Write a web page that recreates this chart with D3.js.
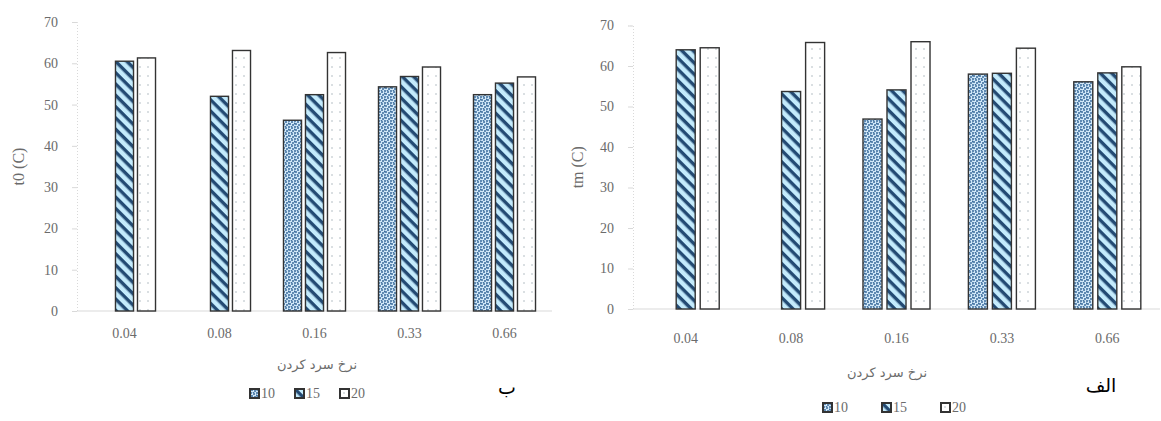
<!DOCTYPE html>
<html>
<head>
<meta charset="utf-8">
<script src="https://cdn.jsdelivr.net/npm/d3@7"></script>
<style>
  body { margin: 0; background: #fff; }
  svg { display: block; }
</style>
</head>
<body>
<svg id="chart" width="1161" height="421"></svg>
<script>
const svg = d3.select("#chart");

// data
const rates = ["0.04", "0.08", "0.16", "0.33", "0.66"];
const series = ["10", "15", "20"];
const yTicks = [0, 10, 20, 30, 40, 50, 60, 70];

// chart ب : t0
const t0_10 = [null, null, 46.2, 54.3, 52.4];
const t0_15 = [60.5, 52.0, 52.4, 56.8, 55.2];
const t0_20 = [61.3, 63.1, 62.6, 59.1, 56.7];

// chart الف : tm
const tm_10 = [null, null, 46.9, 58.0, 56.1];
const tm_15 = [64.0, 53.7, 54.1, 58.2, 58.3];
const tm_20 = [64.5, 65.8, 66.0, 64.4, 59.8];

const tickFont = "'Liberation Serif', 'Times New Roman', serif";
const faFont = "'DejaVu Sans', sans-serif";
const gray = "#6b6b6b";

// patterns
const defs = svg.append("defs");

const p10 = defs.append("pattern").attr("id", "p10")
  .attr("patternUnits", "userSpaceOnUse").attr("width", 6).attr("height", 6);
p10.append("rect").attr("width", 6).attr("height", 6).attr("fill", "#d3e9f9");
[[1, 1], [4, 2], [2, 4], [5, 5], [0.5, 3.5], [3.5, 0]].forEach(([cx, cy]) =>
  p10.append("circle").attr("cx", cx).attr("cy", cy).attr("r", 1).attr("fill", "#3a6c9c"));

const p15 = defs.append("pattern").attr("id", "p15")
  .attr("patternUnits", "userSpaceOnUse").attr("width", 8).attr("height", 8)
  .attr("patternTransform", "rotate(45)");
p15.append("rect").attr("width", 8).attr("height", 8).attr("fill", "#c4ebfc");
p15.append("rect").attr("width", 8).attr("height", 3.4).attr("fill", "#234a73");

const p20 = defs.append("pattern").attr("id", "p20")
  .attr("patternUnits", "userSpaceOnUse").attr("width", 8).attr("height", 9);
p20.append("rect").attr("width", 8).attr("height", 9).attr("fill", "#fff");
p20.append("circle").attr("cx", 4).attr("cy", 4).attr("r", 0.7).attr("fill", "#9aa6b0");

const fills = {"10": "url(#p10)", "15": "url(#p15)", "20": "url(#p20)"};

function chart(opt) {
  const values = series.map((s, i) => opt.data[i]);
  const rows = [];
  rates.forEach((r, ci) => series.forEach((s, si) => {
    if (values[si][ci] != null) rows.push({rate: r, s: s, v: values[si][ci]});
  }));

  const x = d3.scaleBand().domain(rates).range(opt.xRange).paddingInner(opt.pad).paddingOuter(opt.pad / 2);
  const xs = d3.scaleBand().domain(series).range([0, x.bandwidth()]).paddingInner(opt.innerPad);
  const y = d3.scaleLinear().domain([0, 70]).range(opt.yRange);

  const g = svg.append("g");

  // baseline
  g.append("line")
    .attr("x1", opt.xRange[0]).attr("x2", opt.xRange[1])
    .attr("y1", y(0)).attr("y2", y(0))
    .attr("stroke", "#d9d9d9").attr("stroke-width", 1.2);

  // y axis
  const ya = g.append("g")
    .attr("transform", `translate(${opt.xRange[0]},0)`)
    .call(d3.axisLeft(y).tickValues(yTicks).tickSize(5).tickPadding(14).tickFormat(d3.format("d")));
  ya.select(".domain").attr("stroke", "#d9d9d9").attr("stroke-dasharray", "1,2");
  ya.selectAll(".tick line").attr("stroke", "#d9d9d9");
  ya.selectAll(".tick text").attr("fill", gray).attr("font-family", tickFont).attr("font-size", opt.fs);

  // x labels
  g.append("g").selectAll("text").data(rates).join("text")
    .attr("x", d => x(d) + x.bandwidth() / 2)
    .attr("y", opt.xLabelY)
    .attr("text-anchor", "middle")
    .attr("fill", gray).attr("font-family", tickFont).attr("font-size", opt.fs)
    .text(d => d);

  // bars
  g.append("g").selectAll("rect").data(rows).join("rect")
    .attr("x", d => x(d.rate) + xs(d.s))
    .attr("y", d => y(d.v))
    .attr("width", xs.bandwidth())
    .attr("height", d => y(0) - y(d.v))
    .attr("fill", d => fills[d.s])
    .attr("stroke", "#333")
    .attr("stroke-width", 1.4);

  // y title
  g.append("text")
    .attr("transform", `translate(${opt.yTitleX},${(y(0) + y(70)) / 2}) rotate(-90)`)
    .attr("text-anchor", "middle")
    .attr("fill", gray).attr("font-family", tickFont).attr("font-size", 16)
    .text(opt.yTitle);

  // x title
  g.append("text")
    .attr("x", opt.xTitle[0]).attr("y", opt.xTitle[1])
    .attr("text-anchor", "middle").attr("direction", "rtl")
    .attr("fill", gray).attr("font-family", faFont).attr("font-size", 13)
    .text("نرخ سرد کردن");

  // legend
  const lg = g.append("g").selectAll("g").data(series).join("g")
    .attr("transform", (d, i) => `translate(${opt.legend[0] + i * opt.legendStep},${opt.legend[1]})`);
  lg.append("rect")
    .attr("x", 0).attr("y", -9).attr("width", 9).attr("height", 9)
    .attr("fill", d => fills[d]).attr("stroke", "#333").attr("stroke-width", 2);
  lg.append("text")
    .attr("x", 11).attr("y", 0)
    .attr("fill", gray).attr("font-family", tickFont).attr("font-size", opt.fs)
    .text(d => d);

  // panel letter
  g.append("text")
    .attr("x", opt.letter[0]).attr("y", opt.letter[1])
    .attr("text-anchor", "middle").attr("direction", "rtl")
    .attr("fill", "#000").attr("font-family", faFont).attr("font-size", 19)
    .text(opt.letterText);
}

chart({
  data: [t0_10, t0_15, t0_20],
  xRange: [77, 552], yRange: [311, 22],
  pad: 0.347, innerPad: 0.18, fs: 14,
  xLabelY: 338, yTitle: "t0 (C)", yTitleX: 24,
  xTitle: [317, 369], legend: [250, 398], legendStep: 45,
  letter: [507, 394], letterText: "ب"
});

chart({
  data: [tm_10, tm_15, tm_20],
  xRange: [633, 1160], yRange: [309, 25.5],
  pad: 0.364, innerPad: 0.208, fs: 14,
  xLabelY: 343, yTitle: "tm (C)", yTitleX: 583,
  xTitle: [887, 377], legend: [823, 412], legendStep: 59,
  letter: [1101, 392], letterText: "الف"
});
</script>
</body>
</html>
